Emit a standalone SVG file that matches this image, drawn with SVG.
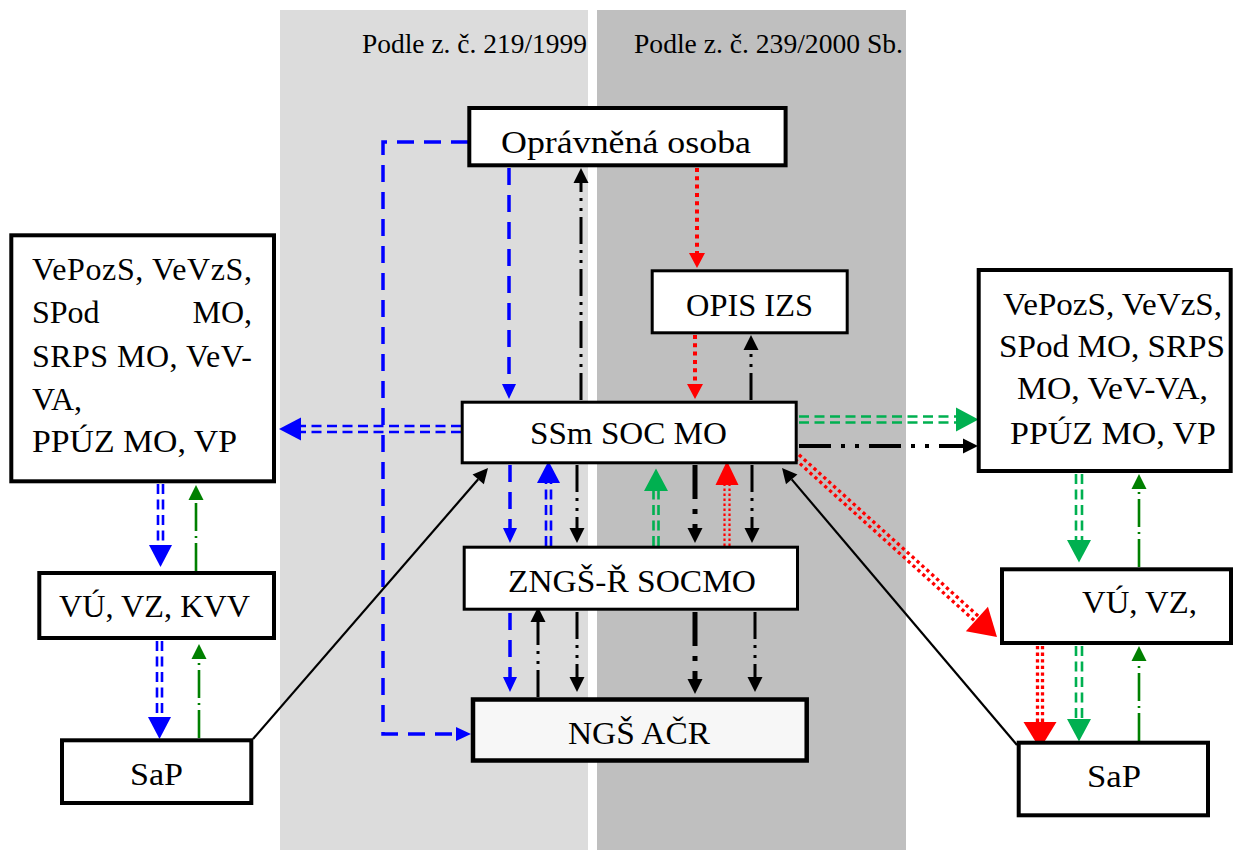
<svg xmlns="http://www.w3.org/2000/svg" width="1237" height="850" viewBox="0 0 1237 850" font-family="Liberation Serif, DejaVu Serif, serif">
<defs>
<style>
text{font-family:"Liberation Serif","DejaVu Serif",serif;font-size:32px;fill:#000}
.lbl{font-size:27px}
.node rect{fill:#fff;stroke:#000}
.c path{fill:none}
.bd{stroke:#0000ff;stroke-width:3.5;stroke-dasharray:17 10}
.bdd{stroke:#0000ff;stroke-width:2.6;stroke-dasharray:10 5.5}
.gdd{stroke:#00b050;stroke-width:2.6;stroke-dasharray:10 5.5}
.rdt{stroke:#ff0000;stroke-width:4;stroke-dasharray:4 4.3}
.rdd{stroke:#ff0000;stroke-width:3.3;stroke-dasharray:3.3 3.3}
.rdn{stroke:#ff0000;stroke-width:2.2;stroke-dasharray:2.5 2.5}
.kdd{stroke:#000;stroke-width:3;stroke-dasharray:27 6 3 7 3 6}
.kth{stroke:#000;stroke-width:5;stroke-dasharray:34 10 5 10}
.kh{stroke:#000;stroke-width:4;stroke-dasharray:32 10 4 10 4 10}
.ks{stroke:#000;stroke-width:2.2}
.gd{stroke:#008000;stroke-width:2.6;stroke-dasharray:28 5 2 5}
.ax{stroke:none}
</style>
<marker id="m-bk" markerUnits="userSpaceOnUse" viewBox="0 0 15 15" markerWidth="15" markerHeight="15" refX="0" refY="7.5" orient="auto" overflow="visible"><path d="M0,0 L15,7.5 L0,15 Z" fill="#000"/></marker>
<marker id="m-bl" markerUnits="userSpaceOnUse" viewBox="0 0 15 15" markerWidth="15" markerHeight="15" refX="0" refY="7.5" orient="auto" overflow="visible"><path d="M0,0.5 L15,7.5 L0,14.5 Z" fill="#0000ff"/></marker>
<marker id="m-rd" markerUnits="userSpaceOnUse" viewBox="0 0 15 16" markerWidth="15" markerHeight="16" refX="0" refY="8" orient="auto" overflow="visible"><path d="M0,0 L15,8 L0,16 Z" fill="#ff0000"/></marker>
<marker id="m-gd" markerUnits="userSpaceOnUse" viewBox="0 0 15 15" markerWidth="15" markerHeight="15" refX="0" refY="7.5" orient="auto" overflow="visible"><path d="M0,0 L15,7.5 L0,15 Z" fill="#008000"/></marker>
<marker id="m-blL" markerUnits="userSpaceOnUse" viewBox="0 0 22 23" markerWidth="22" markerHeight="23" refX="0" refY="11.5" orient="auto" overflow="visible"><path d="M0,0 L22,11.5 L0,23 Z" fill="#0000ff"/></marker>
<marker id="m-grL" markerUnits="userSpaceOnUse" viewBox="0 0 22.5 24" markerWidth="22.5" markerHeight="24" refX="0" refY="12" orient="auto" overflow="visible"><path d="M0,0 L22.5,12 L0,24 Z" fill="#00b050"/></marker>
<marker id="m-rdL" markerUnits="userSpaceOnUse" viewBox="0 0 24 23" markerWidth="24" markerHeight="23" refX="0" refY="11.5" orient="auto" overflow="visible"><path d="M0,0 L24,11.5 L0,23 Z" fill="#ff0000"/></marker>
<marker id="m-rdXL" markerUnits="userSpaceOnUse" viewBox="0 0 27 33" markerWidth="27" markerHeight="33" refX="0" refY="16.5" orient="auto" overflow="visible"><path d="M0,0 L27,16.5 L0,33 Z" fill="#ff0000"/></marker>
</defs>
<rect width="1237" height="850" fill="#fff"/>
<g id="bands">
<rect x="280" y="10" width="308" height="840" fill="#dcdcdc"/>
<rect x="597" y="10" width="309" height="840" fill="#bfbfbf"/>
<text class="lbl" x="362" y="53" textLength="225" lengthAdjust="spacingAndGlyphs">Podle z. č. 219/1999</text>
<text class="lbl" x="634" y="53" textLength="269" lengthAdjust="spacingAndGlyphs">Podle z. č. 239/2000 Sb.</text>
</g>
<g id="connectors" class="c">
<path class="bd" d="M509,168 V384" marker-end="url(#m-bl)"/>
<path class="bd" d="M510,465 V528" marker-end="url(#m-bl)"/>
<path class="bd" d="M510,613 V677" marker-end="url(#m-bl)"/>
<path class="bd" d="M468,142 H383 V734 H456" marker-end="url(#m-bl)"/>
<path class="kdd" d="M581,400 V183" marker-end="url(#m-bk)"/>
<path class="kdd" d="M577,465 V528" marker-end="url(#m-bk)"/>
<path class="kdd" d="M538,697 V622" marker-end="url(#m-bk)"/>
<path class="kdd" d="M577,612 V677" marker-end="url(#m-bk)"/>
<path class="kth" d="M695,612 V679" marker-end="url(#m-bk)"/>
<path class="kdd" d="M755,612 V677" marker-end="url(#m-bk)"/>
<path class="kth" d="M695,465 V528" marker-end="url(#m-bk)"/>
<path class="kdd" d="M752,465 V528" marker-end="url(#m-bk)"/>
<path class="kdd" d="M751,400 V350" marker-end="url(#m-bk)"/>
<path class="kh" d="M799,446 H963" marker-end="url(#m-bk)"/>
<path class="rdt" d="M697,168 V253" marker-end="url(#m-rd)"/>
<path class="rdt" d="M695,335 V384" marker-end="url(#m-rd)"/>
<path class="ks" d="M253,739 L478.2,479.3" marker-end="url(#m-bk)"/>
<path class="ks" d="M1017,745 L791.7,479.4" marker-end="url(#m-bk)"/>
<path class="gd" d="M196,571 V500" marker-end="url(#m-gd)"/>
<path class="gd" d="M199,738 V659" marker-end="url(#m-gd)"/>
<path class="gd" d="M1139,741 V661" marker-end="url(#m-gd)"/>
<path class="gd" d="M1139,567 V489" marker-end="url(#m-gd)"/>
<path class="bdd" d="M461,426 H301 M461,432 H301"/>
<path class="ax" d="M461,429 H301" marker-end="url(#m-blL)"/>
<path class="bdd" d="M546,546 V483 M551,546 V483"/>
<path class="ax" d="M548.5,546 V483" marker-end="url(#m-blL)"/>
<path class="bdd" d="M158,484 V545 M163,484 V545"/>
<path class="ax" d="M160.5,484 V545" marker-end="url(#m-blL)"/>
<path class="bdd" d="M157,641 V717 M162,641 V717"/>
<path class="ax" d="M159.5,641 V717" marker-end="url(#m-blL)"/>
<path class="gdd" d="M653.5,546 V491 M658.5,546 V491"/>
<path class="ax" d="M656,546 V491" marker-end="url(#m-grL)"/>
<path class="gdd" d="M799,416.5 H956 M799,422.5 H956"/>
<path class="ax" d="M799,419.5 H956" marker-end="url(#m-grL)"/>
<path class="gdd" d="M1076,474 V540 M1082,474 V540"/>
<path class="ax" d="M1079,474 V540" marker-end="url(#m-grL)"/>
<path class="gdd" d="M1076,646 V719 M1082,646 V719"/>
<path class="ax" d="M1079,646 V719" marker-end="url(#m-grL)"/>
<path class="rdn" d="M724.5,546 V485 M729.5,546 V485"/>
<path class="ax" d="M727,546 V485" marker-end="url(#m-rdL)"/>
<path class="rdd" d="M795,459.2 L974.9,621.1 M799,454.8 L978.9,616.7"/>
<path class="ax" d="M797,457 L976.9,618.9" marker-end="url(#m-rdXL)"/>
<path class="rdd" d="M1037.5,646 V722 M1042.5,646 V722"/>
<path class="ax" d="M1040,646 V722" marker-end="url(#m-rdXL)"/>
</g>
<g id="opravnena" class="node"><rect x="469.3" y="108" width="316.3" height="57.3" stroke-width="4"/><text x="501" y="152.5" textLength="250" lengthAdjust="spacingAndGlyphs">Oprávněná osoba</text></g>
<g id="opis" class="node"><rect x="652.2" y="270.8" width="195" height="62" stroke-width="3"/><text x="686" y="315.5" textLength="127" lengthAdjust="spacingAndGlyphs">OPIS IZS</text></g>
<g id="ssm" class="node"><rect x="462.2" y="402.2" width="334" height="60.6" stroke-width="3"/><text x="530" y="444" textLength="197" lengthAdjust="spacingAndGlyphs">SSm SOC MO</text></g>
<g id="zngs" class="node"><rect x="464.2" y="547.2" width="333.3" height="62" stroke-width="3"/><text x="508" y="591.5" textLength="248" lengthAdjust="spacingAndGlyphs">ZNGŠ-Ř SOCMO</text></g>
<g id="ngs" class="node"><rect x="473" y="699.5" width="333.7" height="61" stroke-width="4.5" style="fill:#f7f7f7"/><text x="568" y="744" textLength="142" lengthAdjust="spacingAndGlyphs">NGŠ AČR</text></g>
<g id="left-top" class="node"><rect x="11.3" y="235.3" width="262.7" height="246" stroke-width="4"/>
<text x="32" y="280" textLength="220" lengthAdjust="spacing">VePozS, VeVzS,</text>
<text y="323"><tspan x="32">SPod</tspan><tspan x="252" text-anchor="end">MO,</tspan></text>
<text x="32" y="366.5" textLength="220" lengthAdjust="spacing">SRPS MO, VeV-</text>
<text x="32" y="409.5">VA,</text>
<text x="32" y="452" textLength="205" lengthAdjust="spacingAndGlyphs">PPÚZ MO, VP</text></g>
<g id="left-vu" class="node"><rect x="39.3" y="573" width="234.7" height="65" stroke-width="4"/><text x="59" y="616.5" textLength="191" lengthAdjust="spacingAndGlyphs">VÚ, VZ, KVV</text></g>
<g id="left-sap" class="node"><rect x="62" y="740.3" width="189.3" height="62.7" stroke-width="4"/><text x="130" y="785" textLength="53" lengthAdjust="spacingAndGlyphs">SaP</text></g>
<g id="right-top" class="node"><rect x="978.7" y="270" width="252" height="201" stroke-width="4"/>
<text x="1003" y="315" textLength="219" lengthAdjust="spacingAndGlyphs">VePozS, VeVzS,</text>
<text x="999" y="356.5" textLength="226" lengthAdjust="spacingAndGlyphs">SPod MO, SRPS</text>
<text x="1017" y="399" textLength="191" lengthAdjust="spacingAndGlyphs">MO, VeV-VA,</text>
<text x="1010" y="443.5" textLength="206" lengthAdjust="spacingAndGlyphs">PPÚZ MO, VP</text></g>
<g id="right-vu" class="node"><rect x="1002" y="569.3" width="229" height="73.7" stroke-width="4"/><text x="1082" y="613" textLength="115" lengthAdjust="spacingAndGlyphs">VÚ, VZ,</text></g>
<g id="right-sap" class="node"><rect x="1018.7" y="742.7" width="189.3" height="72.6" stroke-width="4"/><text x="1087" y="786.5" textLength="54" lengthAdjust="spacingAndGlyphs">SaP</text></g>
</svg>
